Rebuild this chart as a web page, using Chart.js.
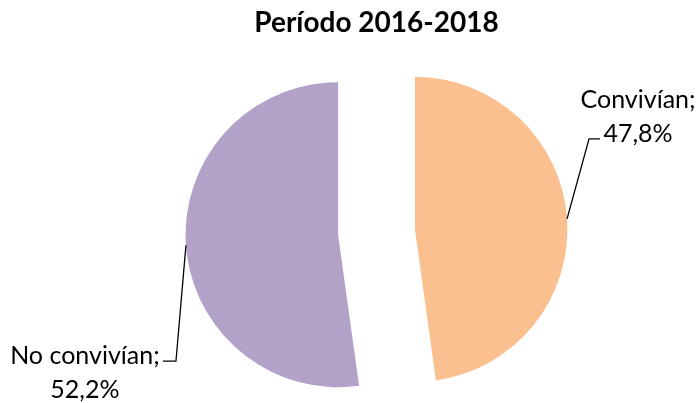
<!DOCTYPE html>
<html>
<head>
<meta charset="utf-8">
<script src="https://cdn.jsdelivr.net/npm/chart.js@4/dist/chart.umd.min.js"></script>
<style>
  html, body { margin: 0; padding: 0; background: #fff; }
  #wrap { width: 696px; height: 403px; }
</style>
</head>
<body>
<div id="wrap"><canvas id="pieChart" width="696" height="403"></canvas></div>
<script>
// datos del gráfico
const chartTitle = "Período 2016-2018";
const categories = ["Convivían", "No convivían"];
const shares = [47.8, 52.2];
const sliceColors = ["#FAC090", "#B3A2C7"];

// posición de las etiquetas respecto al borde del sector (codo de la guía y centro del texto)
const labelLayout = [
  { elbow: [22, -80], end: [33, -80], text: [71, -119] },
  { elbow: [-10, 116], end: [-23, 116], text: [-101, 111] }
];

// separación de cada sector (px), como la "explosión" de Excel
const explodeShift = 38.5;

// mueve cada sector hacia fuera sobre su bisectriz (bordes rectos radiales)
const explode = {
  id: "explode",
  beforeDatasetsDraw(chart) {
    const area = chart.chartArea;
    const cx = (area.left + area.right) / 2;
    const cy = (area.top + area.bottom) / 2;
    chart.getDatasetMeta(0).data.forEach(arc => {
      const mid = (arc.startAngle + arc.endAngle) / 2;
      arc.x = cx + Math.cos(mid) * explodeShift;
      arc.y = cy + Math.sin(mid) * explodeShift;
    });
  }
};

const leaderLabels = {
  id: "leaderLabels",
  afterDatasetsDraw(chart) {
    const ctx = chart.ctx;
    ctx.save();
    chart.getDatasetMeta(0).data.forEach((arc, i) => {
      const mid = (arc.startAngle + arc.endAngle) / 2;
      const ax = arc.x + Math.cos(mid) * arc.outerRadius;
      const ay = arc.y + Math.sin(mid) * arc.outerRadius;
      const lay = labelLayout[i];

      ctx.strokeStyle = "#000";
      ctx.lineWidth = 1.3;
      ctx.beginPath();
      ctx.moveTo(ax, ay);
      ctx.lineTo(ax + lay.elbow[0], ay + lay.elbow[1]);
      ctx.lineTo(ax + lay.end[0], ay + lay.end[1]);
      ctx.stroke();

      ctx.fillStyle = "#000";
      ctx.font = "25px Lato";
      ctx.textAlign = "center";
      ctx.textBaseline = "middle";
      const tx = ax + lay.text[0];
      const ty = ay + lay.text[1];
      ctx.fillText(categories[i] + ";", tx, ty);
      ctx.fillText(shares[i].toFixed(1).replace(".", ",") + "%", tx, ty + 34);
    });
    ctx.restore();
  }
};

new Chart(document.getElementById("pieChart"), {
  type: "pie",
  data: {
    labels: categories,
    datasets: [{
      data: shares,
      backgroundColor: sliceColors,
      borderWidth: 0,
      clip: false
    }]
  },
  options: {
    responsive: false,
    animation: false,
    radius: 152.5,
    layout: { padding: { left: 57, right: 0, top: 0, bottom: 0 } },
    plugins: {
      legend: { display: false },
      tooltip: { enabled: false },
      title: {
        display: true,
        text: chartTitle,
        color: "#000",
        font: { family: "Lato", size: 28, weight: "bold", lineHeight: 1.2 },
        padding: { top: 6, bottom: 21.4 }
      }
    }
  },
  plugins: [explode, leaderLabels]
});
</script>
</body>
</html>
